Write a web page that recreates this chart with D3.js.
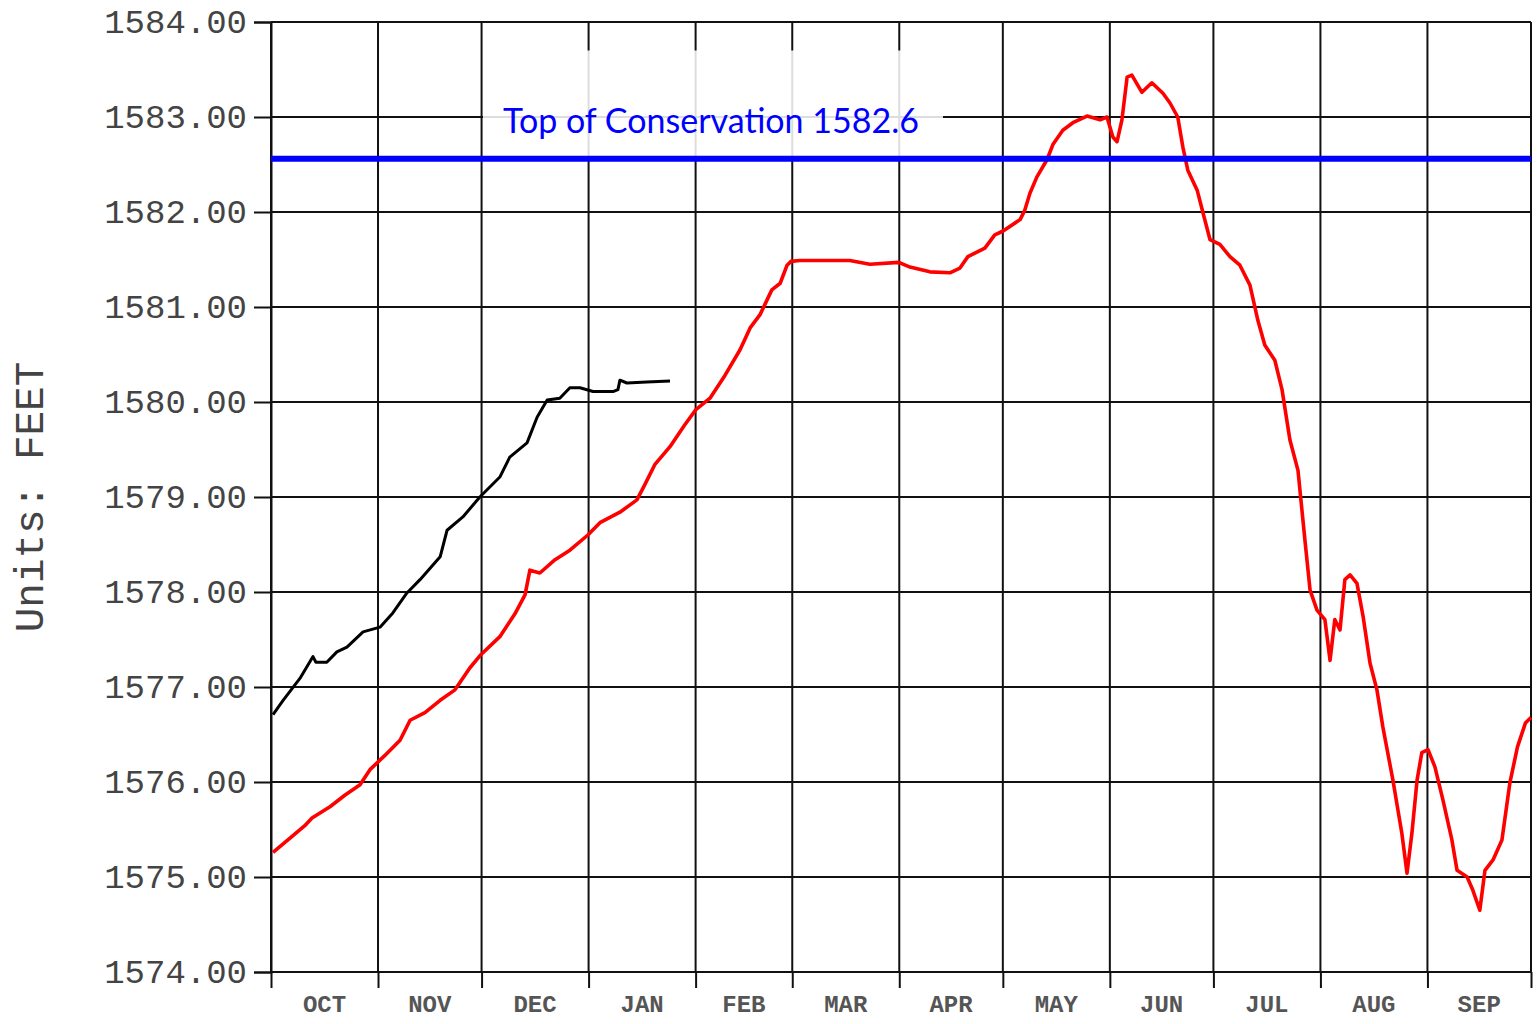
<!DOCTYPE html>
<html>
<head>
<meta charset="utf-8">
<script src="https://cdn.jsdelivr.net/npm/d3@7"></script>
<style>
  body { margin: 0; background: #fff; }
  svg { display: block; }
</style>
</head>
<body>
<svg id="chart" width="1538" height="1024"></svg>
<script>
// water year starts Oct 1; days counted from there
var waterYearStart = new Date(2018, 9, 1);
var waterYearEnd = new Date(2019, 9, 1);
var monthLabels = ["OCT","NOV","DEC","JAN","FEB","MAR","APR","MAY","JUN","JUL","AUG","SEP"];
var elevTicks = [1574,1575,1576,1577,1578,1579,1580,1581,1582,1583,1584];
var conservationPool = 1582.56;

// previous water year (red) - day offset and pool elevation (ft)
var lastYearDays = [0.6,5.5,9.8,11.9,17.1,21.4,25.8,28.7,33,37.4,40.3,44.6,49,53.3,57.6,60.8,66.3,70.7,73.6,75,77.9,82.3,86.6,91.8,95.3,101.1,106,108.3,111.2,115.6,119.9,123.1,127.2,131.5,135.9,138.8,141.7,145.1,147.5,149.5,150.6,153.2,159,167.7,173.5,181.9,185.1,190.9,196.7,199.6,201.9,206.8,209.7,212.1,217,218.4,219.9,221.9,224.8,226.5,229.4,232.3,236.4,240.2,242.2,243.9,245.1,246.5,248,249.4,252.3,255.2,258.4,260.4,262.7,264.2,265.6,268.3,270,272,274.9,277.8,280.7,283.6,285.9,287.9,290.8,292.9,295.2,297.5,299.5,301,303,305.3,306.8,308.2,309.7,311.1,312.6,314.6,316.4,318.4,320.4,322.1,325,327.6,329.1,330.5,332,333.4,335.2,337.2,339.5,342.1,343.6,346.5,348.2,350.2,351.7,354,356.6,358.9,361.1,363.4,365];
var lastYearElev = [1575.26,1575.41,1575.54,1575.62,1575.74,1575.86,1575.97,1576.13,1576.28,1576.44,1576.65,1576.73,1576.86,1576.97,1577.2,1577.34,1577.53,1577.77,1577.97,1578.23,1578.2,1578.34,1578.44,1578.6,1578.73,1578.84,1578.97,1579.13,1579.34,1579.53,1579.76,1579.92,1580.04,1580.28,1580.55,1580.78,1580.92,1581.18,1581.25,1581.44,1581.48,1581.49,1581.49,1581.49,1581.45,1581.47,1581.42,1581.37,1581.36,1581.41,1581.53,1581.62,1581.76,1581.8,1581.92,1582.02,1582.2,1582.37,1582.55,1582.71,1582.86,1582.94,1583.01,1582.97,1583,1582.79,1582.74,1582.97,1583.42,1583.44,1583.26,1583.36,1583.25,1583.15,1583,1582.68,1582.44,1582.23,1581.99,1581.71,1581.66,1581.53,1581.44,1581.23,1580.86,1580.6,1580.44,1580.13,1579.6,1579.28,1578.55,1578.02,1577.81,1577.71,1577.28,1577.71,1577.6,1578.13,1578.18,1578.09,1577.74,1577.25,1576.97,1576.58,1576.02,1575.46,1575.04,1575.46,1576.02,1576.31,1576.34,1576.16,1575.81,1575.39,1575.07,1575,1574.86,1574.65,1575.07,1575.18,1575.39,1575.99,1576.37,1576.62,1576.68];

// current water year (black)
var thisYearDays = [0.6,3.5,8.4,12.2,13,16.2,19.1,22,26.7,31.6,35.3,39.4,43.2,49,51,55.6,60.5,66.3,69.2,74.2,77.1,80,83.7,86.6,89.5,93.3,99.1,100.5,101.1,103.1,108.9,115.6];
var thisYearElev = [1576.71,1576.86,1577.09,1577.32,1577.26,1577.26,1577.37,1577.42,1577.58,1577.63,1577.78,1577.99,1578.13,1578.37,1578.65,1578.79,1579,1579.21,1579.42,1579.57,1579.84,1580.02,1580.04,1580.15,1580.15,1580.11,1580.11,1580.13,1580.23,1580.2,1580.21,1580.22];

var margin = {top: 22, right: 7, bottom: 52, left: 271};
var width = 1538 - margin.left - margin.right;
var height = 1024 - margin.top - margin.bottom;
var mono = "'Liberation Mono', 'Courier New', monospace";

var svg = d3.select("#chart");
var g = svg.append("g").attr("transform", "translate(" + margin.left + "," + margin.top + ")");

var x = d3.scaleTime().domain([waterYearStart, waterYearEnd]).range([0, width]);
var y = d3.scaleLinear().domain([1574, 1584]).range([height, 0]);

function toDate(d) { return d3.timeHour.offset(waterYearStart, d * 24); }

var monthStarts = d3.timeMonth.range(waterYearStart, d3.timeDay.offset(waterYearEnd, 1));

// grid
g.selectAll(".hgrid").data(elevTicks).enter().append("line")
  .attr("x1", 0).attr("x2", width)
  .attr("y1", d => y(d)).attr("y2", d => y(d))
  .attr("stroke", "#111").attr("stroke-width", 2);
g.selectAll(".vgrid").data(monthStarts).enter().append("line")
  .attr("x1", d => x(d)).attr("x2", d => x(d))
  .attr("y1", 0).attr("y2", height)
  .attr("stroke", "#111").attr("stroke-width", 2);

// y axis
var yAxis = g.append("g").call(d3.axisLeft(y).tickValues(elevTicks).tickSize(17).tickPadding(7).tickFormat(d3.format(".2f")));
yAxis.select(".domain").attr("stroke", "#111").attr("stroke-width", 2);
yAxis.selectAll(".tick line").attr("stroke", "#111").attr("stroke-width", 2);
yAxis.selectAll("text").attr("font-family", mono)
  .attr("font-size", 34).attr("fill", "#444");

// x axis (month boundaries)
var xAxis = g.append("g").attr("transform", "translate(0," + height + ")")
  .call(d3.axisBottom(x).tickValues(monthStarts).tickSize(16).tickFormat(""));
xAxis.select(".domain").remove();
xAxis.selectAll(".tick line").attr("stroke", "#111").attr("stroke-width", 2);

g.selectAll(".month").data(monthLabels).enter().append("text")
  .attr("x", (d, i) => (x(monthStarts[i]) + x(monthStarts[i + 1])) / 2)
  .attr("y", height + 40)
  .attr("text-anchor", "middle")
  .attr("font-family", mono)
  .attr("font-size", 24).attr("font-weight", "bold").attr("fill", "#555")
  .text(d => d);

svg.append("text")
  .attr("transform", "translate(43,497) rotate(-90)")
  .attr("text-anchor", "middle")
  .attr("font-family", mono)
  .attr("font-size", 41).attr("fill", "#444")
  .text("Units: FEET");

// series
var line = d3.line().x(d => x(toDate(d[0]))).y(d => y(d[1]));
g.append("path").datum(d3.zip(lastYearDays, lastYearElev))
  .attr("d", line).attr("fill", "none").attr("stroke", "#ff0000").attr("stroke-width", 3.6)
  .attr("stroke-linejoin", "round");
g.append("path").datum(d3.zip(thisYearDays, thisYearElev))
  .attr("d", line).attr("fill", "none").attr("stroke", "#000").attr("stroke-width", 3)
  .attr("stroke-linejoin", "round");

// top of conservation label + line
g.append("rect")
  .attr("x", 212).attr("y", y(1583.7)).attr("width", 460).attr("height", y(conservationPool) - y(1583.7))
  .attr("fill", "#fff").attr("fill-opacity", 0.86);
g.append("line")
  .attr("x1", 0).attr("x2", width)
  .attr("y1", y(conservationPool)).attr("y2", y(conservationPool))
  .attr("stroke", "#0000ff").attr("stroke-width", 6);
g.append("text")
  .attr("x", 232).attr("y", y(conservationPool) - 26)
  .attr("font-family", "Lato, 'Open Sans', sans-serif")
  .attr("font-size", 34).attr("fill", "#0000ff")
  .text("Top of Conservation " + conservationPool.toFixed(1));
</script>
</body>
</html>
